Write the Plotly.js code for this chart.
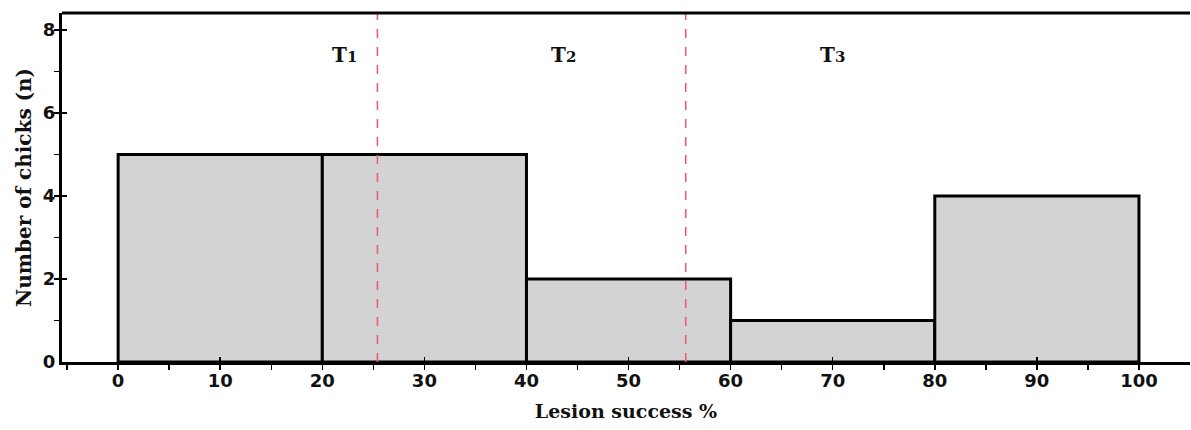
<!DOCTYPE html>
<html>
<head>
<meta charset="utf-8">
<script src="https://cdn.plot.ly/plotly-3.0.1.min.js"></script>
<style>html,body{margin:0;padding:0;background:#fff;}#chart{width:1191px;height:430px;}</style>
</head>
<body>
<div id="chart"></div>
<script>
// Histogram bins (lesion success %) and counts
const binStarts = [0, 20, 40, 60, 80];
const binWidth = 20;
const counts = [5, 5, 2, 1, 4];

// Threshold separators and group labels
const thresholds = [25.4, 55.6];
const groupNames = ["T", "T", "T"];
const groupIndex = ["1", "2", "3"];
const groupLabelX = [22.2, 43.6, 70.0];
const groupLabelY = 7.4;

const xTickVals = [0, 10, 20, 30, 40, 50, 60, 70, 80, 90, 100];
const yTickVals = [0, 2, 4, 6, 8];

const centers = binStarts.map(s => s + binWidth / 2);

const trace = {
  type: 'bar',
  x: centers,
  y: counts,
  width: binStarts.map(() => binWidth),
  marker: {color: '#d3d3d3', line: {color: '#000', width: 3}},
  hoverinfo: 'skip'
};

const shapes = thresholds.map(t => ({
  type: 'line', xref: 'x', yref: 'paper', x0: t, x1: t, y0: 0, y1: 1,
  line: {color: '#e8606e', width: 1.6, dash: 'dash'}, layer: 'above'
}));
shapes.push({type: 'line', xref: 'paper', yref: 'paper', x0: 0, x1: 1, y0: 1, y1: 1,
  line: {color: '#000', width: 3}});

const annotations = groupNames.map((g, i) => ({
  x: groupLabelX[i], y: groupLabelY, xref: 'x', yref: 'y',
  text: g + '<span style="font-size:15px">' + groupIndex[i] + '</span>', showarrow: false,
  font: {family: 'DejaVu Serif', size: 20, color: '#111', weight: 'bold'}
}));

const layout = {
  width: 1191, height: 430,
  margin: {l: 62, r: 1, t: 13, b: 68},
  paper_bgcolor: '#fff', plot_bgcolor: '#fff',
  showlegend: false,
  bargap: 0,
  xaxis: {
    range: [-5.5, 105], tickvals: xTickVals, ticktext: xTickVals.map(String),
    ticks: 'inside', ticklen: 5, tickwidth: 1.5, tickcolor: '#000',
    minor: {dtick: 5, tick0: 0, ticks: 'outside', ticklen: 5, tickwidth: 1.5, tickcolor: '#000', showgrid: false},
    showgrid: false, zeroline: false,
    showline: true, linecolor: '#000', linewidth: 3,
    tickfont: {family: 'DejaVu Sans', size: 18, color: '#111', weight: 'bold'},
    title: {text: 'Lesion success %', standoff: 16,
      font: {family: 'DejaVu Serif', size: 19, color: '#111', weight: 'bold'}}
  },
  yaxis: {
    range: [0, 8.41], tickvals: yTickVals, ticktext: yTickVals.map(String),
    ticks: 'inside', ticklen: 5, tickwidth: 1.5, tickcolor: '#000',
    minor: {dtick: 1, tick0: 0, ticks: 'outside', ticklen: 5, tickwidth: 1.5, tickcolor: '#000', showgrid: false},
    showgrid: false, zeroline: false,
    showline: true, linecolor: '#000', linewidth: 3,
    tickfont: {family: 'DejaVu Sans', size: 18, color: '#111', weight: 'bold'},
    title: {text: 'Number of chicks (n)', standoff: 6,
      font: {family: 'DejaVu Serif', size: 20, color: '#111', weight: 'bold'}}
  },
  shapes: shapes,
  annotations: annotations
};

Plotly.newPlot('chart', [trace], layout, {displayModeBar: false, staticPlot: true});
</script>
</body>
</html>
